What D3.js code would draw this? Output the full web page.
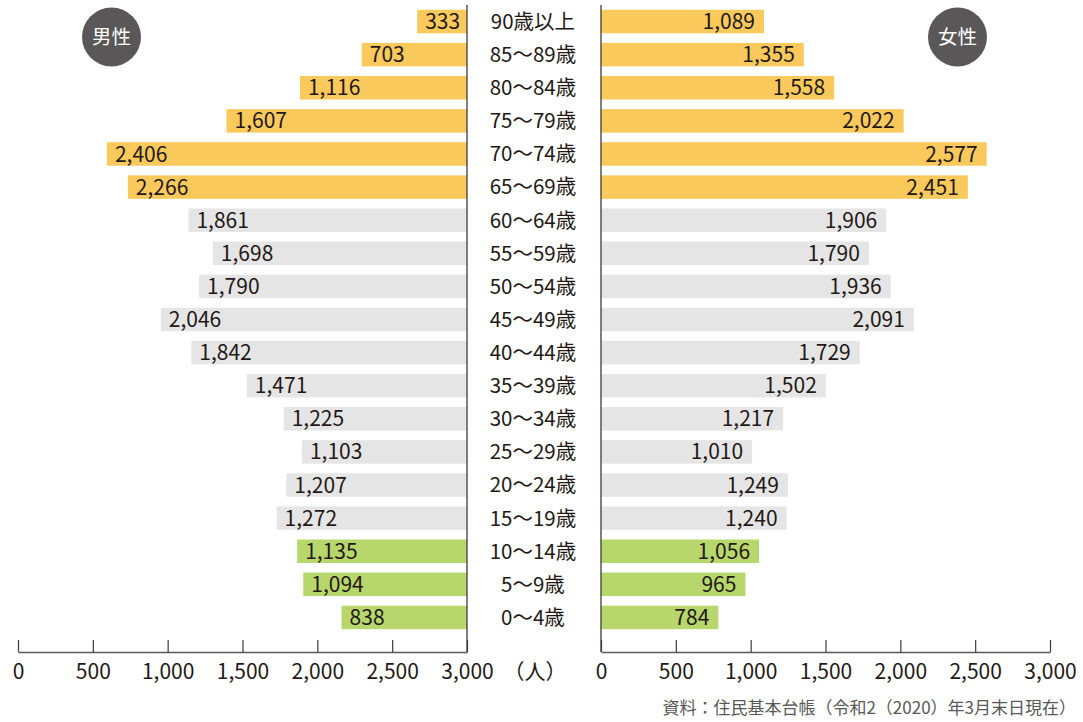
<!DOCTYPE html>
<html lang="ja">
<head>
<meta charset="utf-8">
<script src="https://cdn.jsdelivr.net/npm/d3@7"></script>
<style>
  body { margin: 0; background: #fff; }
  svg { display: block; font-family: "Noto Sans CJK JP", "Noto Sans", sans-serif; }
</style>
</head>
<body>
<svg id="chart" width="1083" height="722"></svg>
<script>
const ageGroups = [
  "90歳以上", "85～89歳", "80～84歳", "75～79歳", "70～74歳", "65～69歳",
  "60～64歳", "55～59歳", "50～54歳", "45～49歳", "40～44歳", "35～39歳",
  "30～34歳", "25～29歳", "20～24歳", "15～19歳", "10～14歳", "5～9歳", "0～4歳"
];
const male = [333, 703, 1116, 1607, 2406, 2266, 1861, 1698, 1790, 2046, 1842, 1471, 1225, 1103, 1207, 1272, 1135, 1094, 838];
const female = [1089, 1355, 1558, 2022, 2577, 2451, 1906, 1790, 1936, 2091, 1729, 1502, 1217, 1010, 1249, 1240, 1056, 965, 784];
// 0 = 65歳以上, 1 = 15〜64歳, 2 = 0〜14歳
const groupOf = [0, 0, 0, 0, 0, 0, 1, 1, 1, 1, 1, 1, 1, 1, 1, 1, 2, 2, 2];
const ticks = [0, 500, 1000, 1500, 2000, 2500, 3000];

const groupColor = ["#fac95c", "#e5e5e5", "#b7d66b"];
const ink = "#231815";
const fmt = d3.format(",");

const svg = d3.select("#chart");
const axisY = 652;

const y = d3.scaleBand()
  .domain(ageGroups)
  .range([5, 634])
  .paddingInner(0.29)
  .paddingOuter(0.145);

const xL = d3.scaleLinear().domain([0, 3000]).range([18, 467]);
const xR = d3.scaleLinear().domain([0, 3000]).range([601, 1050]);

const rows = ageGroups.map((a, i) => ({ age: a, m: male[i], f: female[i], g: groupOf[i] }));

// male bars grow leftward from the centre line
const len = (v) => xL(v) - xL(0);
const left = svg.append("g");
left.selectAll("rect")
  .data(rows)
  .join("rect")
  .attr("x", (d) => xL(3000) - len(d.m))
  .attr("y", (d) => y(d.age))
  .attr("width", (d) => len(d.m))
  .attr("height", y.bandwidth())
  .attr("fill", (d) => groupColor[d.g]);
left.selectAll("text")
  .data(rows)
  .join("text")
  .attr("x", (d) => xL(3000) - len(d.m) + 8)
  .attr("y", (d) => y(d.age) + y.bandwidth() / 2)
  .attr("dy", "0.36em")
  .attr("font-size", 21)
  .attr("fill", ink)
  .text((d) => fmt(d.m));

const right = svg.append("g");
right.selectAll("rect")
  .data(rows)
  .join("rect")
  .attr("x", xR(0))
  .attr("y", (d) => y(d.age))
  .attr("width", (d) => xR(d.f) - xR(0))
  .attr("height", y.bandwidth())
  .attr("fill", (d) => groupColor[d.g]);
right.selectAll("text")
  .data(rows)
  .join("text")
  .attr("x", (d) => xR(d.f) - 9)
  .attr("y", (d) => y(d.age) + y.bandwidth() / 2)
  .attr("dy", "0.36em")
  .attr("text-anchor", "end")
  .attr("font-size", 21)
  .attr("fill", ink)
  .text((d) => fmt(d.f));

// age labels in the middle
svg.append("g").selectAll("text")
  .data(rows)
  .join("text")
  .attr("x", 533)
  .attr("y", (d) => y(d.age) + y.bandwidth() / 2)
  .attr("dy", "0.36em")
  .attr("text-anchor", "middle")
  .attr("font-size", 20.5)
  .attr("fill", ink)
  .text((d) => d.age);

// centre lines
[xL(3000), xR(0)].forEach((x) => {
  svg.append("line")
    .attr("x1", x).attr("x2", x)
    .attr("y1", 5).attr("y2", axisY)
    .attr("stroke", "#3e3a39")
    .attr("stroke-width", 1.3);
});

// axes
const drawAxis = (scale) => {
  const g = svg.append("g")
    .attr("transform", `translate(0,${axisY})`)
    .call(d3.axisBottom(scale).tickValues(ticks).tickFormat(fmt)
      .tickSizeInner(-12).tickSizeOuter(0).tickPadding(12));
  g.select(".domain").attr("stroke", "#595757").attr("stroke-width", 1.3);
  g.selectAll(".tick line").attr("stroke", "#3e3a39").attr("stroke-width", 1.2);
  g.selectAll(".tick text")
    .attr("font-family", "\"Noto Sans CJK JP\", sans-serif")
    .attr("font-size", 21)
    .attr("fill", ink);
};
drawAxis(xL);
drawAxis(xR);

svg.append("text")
  .attr("x", 535)
  .attr("y", axisY + 12)
  .attr("dy", "0.71em")
  .attr("text-anchor", "middle")
  .attr("font-size", 21)
  .attr("fill", ink)
  .text("（人）");

// sex badges
[["男性", 111.5], ["女性", 957.5]].forEach(([label, cx]) => {
  svg.append("circle")
    .attr("cx", cx).attr("cy", 37).attr("r", 29.5)
    .attr("fill", "#595757");
  svg.append("text")
    .attr("x", cx).attr("y", 37)
    .attr("dy", "0.36em")
    .attr("text-anchor", "middle")
    .attr("font-size", 19.5)
    .attr("fill", "#fff")
    .text(label);
});

svg.append("text")
  .attr("x", 1076)
  .attr("y", 708)
  .attr("dy", "0.36em")
  .attr("text-anchor", "end")
  .attr("font-size", 17)
  .attr("fill", "#595757")
  .text("資料：住民基本台帳（令和2（2020）年3月末日現在）");
</script>
</body>
</html>
